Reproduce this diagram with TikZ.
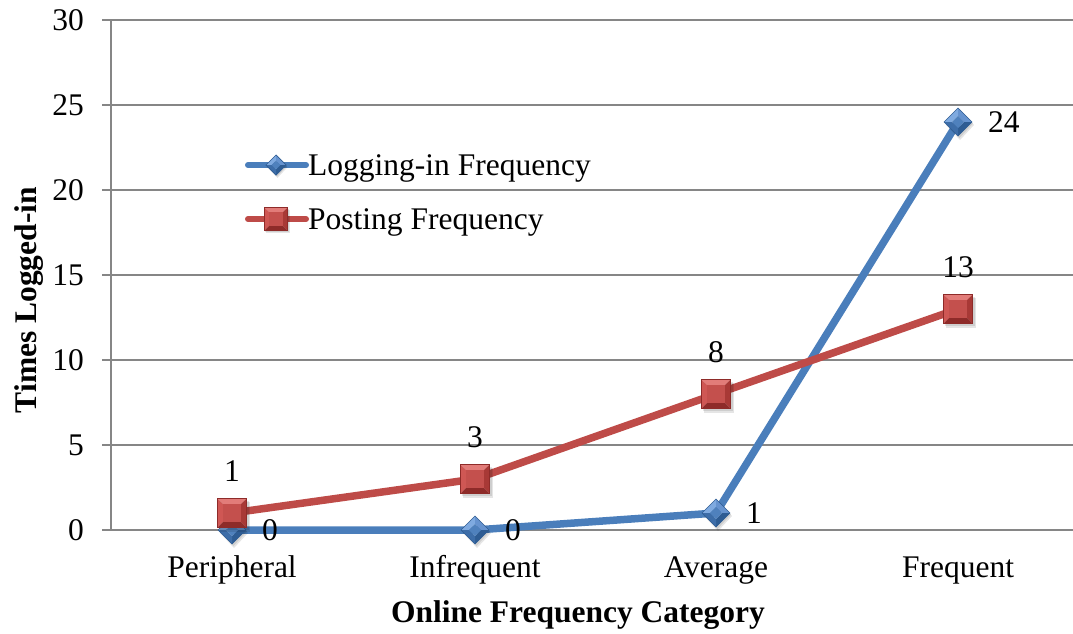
\documentclass[tikz,border=0pt]{standalone}
\usepackage{fontspec}
\setmainfont{Liberation Serif}
\definecolor{gridgray}{HTML}{868686}
\definecolor{serblue}{HTML}{4A7EBB}
\definecolor{serred}{HTML}{BE4B48}
\definecolor{bLt}{HTML}{7FAAE0}
\definecolor{bMd}{HTML}{6693CF}
\definecolor{bBs}{HTML}{4F81BD}
\definecolor{bDk}{HTML}{2E5C93}
\definecolor{bDm}{HTML}{3D6DA8}
\definecolor{rLt}{HTML}{E27C79}
\definecolor{rMd}{HTML}{CF5754}
\definecolor{rBs}{HTML}{C4504D}
\definecolor{rDk}{HTML}{8E2B29}
\definecolor{rDm}{HTML}{A83936}
\tikzset{
  lbl/.style={font=\fontsize{31.5}{36}\selectfont, inner sep=0pt},
  axtitle/.style={font=\fontsize{31.5}{36}\selectfont\bfseries, inner sep=0pt},
  grid line/.style={draw=gridgray, line width=1.5pt},
  blueline/.style={draw=serblue, line width=7.5pt, line join=round},
  redline/.style={draw=serred, line width=7.5pt, line join=round},
  pics/bluemark/.style={code={
    \fill[black, opacity=0.10] (2,-12) -- (16,3) -- (2,18) -- (-12,3) -- cycle;
    \fill[black, opacity=0.10] (1.5,-13) -- (15,1.5) -- (1.5,16) -- (-12,1.5) -- cycle;
    \fill[bLt] (-14,0) -- (0,-14) -- (0,-6) -- (-6,0) -- cycle;
    \fill[bMd] (0,-14) -- (14,0) -- (6,0) -- (0,-6) -- cycle;
    \fill[bDk] (14,0) -- (0,14) -- (0,6) -- (6,0) -- cycle;
    \fill[bDm] (0,14) -- (-14,0) -- (-6,0) -- (0,6) -- cycle;
    \fill[bBs] (-6,0) -- (0,-6) -- (6,0) -- (0,6) -- cycle;
    \draw[bDk, line width=0.6pt] (-14,0) -- (0,-14) -- (14,0) -- (0,14) -- cycle;
  }},
  pics/redmark/.style={code={
    \fill[black, opacity=0.10] (-12.5,-11.5) rectangle (17.5,18.5);
    \fill[black, opacity=0.10] (-13.5,-12.5) rectangle (16.5,17);
    \fill[rLt] (-14.5,-14.5) -- (14.5,-14.5) -- (9,-9) -- (-9,-9) -- cycle;
    \fill[rMd] (-14.5,-14.5) -- (-9,-9) -- (-9,9) -- (-14.5,14.5) -- cycle;
    \fill[rDm] (14.5,-14.5) -- (14.5,14.5) -- (9,9) -- (9,-9) -- cycle;
    \fill[rDk] (-14.5,14.5) -- (14.5,14.5) -- (9,9) -- (-9,9) -- cycle;
    \fill[rBs] (-9,-9) rectangle (9,9);
    \draw[rDk, line width=0.6pt] (-14.5,-14.5) rectangle (14.5,14.5);
  }}
}
\begin{document}
\begin{tikzpicture}[x=1pt, y=-1pt]
\useasboundingbox (0,0) rectangle (1073,633);

% value axis: gridlines, ticks and labels (17 units of height per 1)
\foreach \v/\yy in {0/530,5/445,10/360,15/275,20/190,25/105,30/20}{
  \draw[grid line] (102,\yy) -- (1073,\yy);
  \node[lbl, anchor=east] (tick\v) at (84,\yy) {\v};
}
\coordinate (axtop) at (111,20);
\coordinate (axbot) at (111,530);
\draw[grid line] (axtop) -- (axbot);

% category labels
\node[lbl, anchor=base] (cat1) at (232,577) {Peripheral};
\node[lbl, anchor=base] (cat2) at (475,577) {Infrequent};
\node[lbl, anchor=base] (cat3) at (716,577) {Average};
\node[lbl, anchor=base] (cat4) at (958,577) {Frequent};

% axis titles
\node[axtitle, anchor=base] (xtitle) at (578,622) {Online Frequency Category};
\node[axtitle, rotate=90] (ytitle) at (29,300) {Times Logged-in};

% data points
\coordinate (b1) at (232,530);
\coordinate (b2) at (475,530);
\coordinate (b3) at (716,513);
\coordinate (b4) at (958,122);
\coordinate (r1) at (232,513);
\coordinate (r2) at (475,479);
\coordinate (r3) at (716,394);
\coordinate (r4) at (958,309);

% logging-in series
\draw[blueline] (b1) -- (b2) -- (b3) -- (b4);
\foreach \p in {b1,b2,b3,b4} \pic at (\p) {bluemark};

% posting series
\draw[redline] (r1) -- (r2) -- (r3) -- (r4);
\foreach \p in {r1,r2,r3,r4} \pic at (\p) {redmark};

% data labels
\node[lbl, anchor=west] (lb1) at ([xshift=30pt]b1) {0};
\node[lbl, anchor=west] (lb2) at ([xshift=30pt]b2) {0};
\node[lbl, anchor=west] (lb3) at ([xshift=30pt]b3) {1};
\node[lbl, anchor=west] (lb4) at ([xshift=30pt]b4) {24};
\node[lbl, anchor=base] (lr1) at ([yshift=32pt]r1) {1};
\node[lbl, anchor=base] (lr2) at ([yshift=32pt]r2) {3};
\node[lbl, anchor=base] (lr3) at ([yshift=32pt]r3) {8};
\node[lbl, anchor=base] (lr4) at ([yshift=32pt]r4) {13};

% legend
\coordinate (lgb1) at (248,165);
\coordinate (lgb2) at (306,165);
\coordinate (lgbm) at (276,165);
\coordinate (lgr1) at (248,219);
\coordinate (lgr2) at (306,219);
\coordinate (lgrm) at (276,219);
\draw[blueline, line width=6pt, line cap=round] (lgb1) -- (lgb2);
\pic[scale=0.72] at (lgbm) {bluemark};
\draw[redline, line width=6pt, line cap=round] (lgr1) -- (lgr2);
\pic[scale=0.78] at (lgrm) {redmark};
\node[lbl, anchor=base west] (lgbt) at (308,175) {Logging-in Frequency};
\node[lbl, anchor=base west] (lgrt) at (308,229) {Posting Frequency};
\end{tikzpicture}
\end{document}
